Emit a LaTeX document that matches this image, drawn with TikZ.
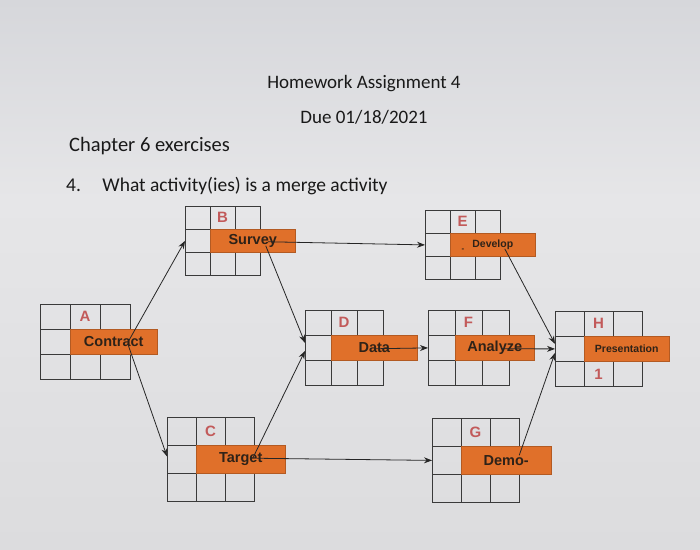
\documentclass[tikz,border=0pt]{standalone}
\usepackage{fontspec}
\setmainfont{Carlito}
\newfontfamily\arialfont{Liberation Sans}
\usetikzlibrary{arrows.meta,calc}
\definecolor{papertop}{HTML}{D6D7DB}
\definecolor{papermid}{HTML}{E6E6E8}
\definecolor{paperbot}{HTML}{DCDCDE}
\definecolor{actorange}{HTML}{E0702A}
\definecolor{actred}{HTML}{C25A5A}
\definecolor{gridgray}{HTML}{3A3A3A}
\definecolor{inktext}{HTML}{2E2218}
\tikzset{
  hdr/.style={inner sep=0pt, text=black!90},
  gridbox/.style={draw=gridgray, line width=0.8pt, inner sep=0pt},
  gridline/.style={draw=gridgray, line width=0.8pt},
  actlabel/.style={fill=actorange, draw=actorange!80!black, line width=0.5pt, inner sep=0pt,
    text=inktext, font=\arialfont\bfseries\fontsize{14.5}{16}\selectfont},
  actletter/.style={inner sep=0pt, text=actred, font=\arialfont\bfseries\fontsize{15}{17}\selectfont},
  conn/.style={draw=black!85, line width=0.8pt, -{Stealth[length=8pt,width=6pt]}},
}
% #1 name, #2 x, #3 y, #4 cell w, #5 cell h, #6 label width, #7 letter, #8 label
\newcommand\activitybox[8]{%
  \node[gridbox, minimum width=3*#4pt, minimum height=3*#5pt, anchor=north west] (#1g) at (#2,#3) {};
  \draw[gridline] (#2+#4,#3) -- (#2+#4,#3+3*#5);
  \draw[gridline] (#2+2*#4,#3) -- (#2+2*#4,#3+3*#5);
  \draw[gridline] (#2,#3+#5) -- (#2+3*#4,#3+#5);
  \draw[gridline] (#2,#3+2*#5) -- (#2+3*#4,#3+2*#5);
  \node[actlabel, minimum width=#6pt, minimum height=#5pt, anchor=north west] (#1) at (#2+#4,#3+#5) {#8};
  \node[actletter] (#1l) at (#2+1.5*#4,#3+0.5*#5) {#7};
}
\begin{document}
\begin{tikzpicture}[x=1pt,y=-1pt]
\shade[top color=papertop, bottom color=papermid] (0,0) rectangle (700,200);
\shade[top color=papermid, bottom color=paperbot] (0,200) rectangle (700,549);
\useasboundingbox (0,0) rectangle (700,549);

\node[hdr, anchor=base, font=\fontsize{19}{22}\selectfont] (t1) at (364,88) {Homework Assignment 4};
\node[hdr, anchor=base, font=\fontsize{19}{22}\selectfont] (t2) at (364,123) {Due 01/18/2021};
\node[hdr, anchor=base west, font=\fontsize{20.5}{24}\selectfont] (t3) at (69,151) {Chapter 6 exercises};
\node[hdr, anchor=base west, font=\fontsize{19.5}{23}\selectfont] (t4) at (66,191) {4.\hspace{1.1em}What activity(ies) is a merge activity};

\activitybox{A}{40}{304}{30}{25}{87}{A}{Contract}
\activitybox{B}{185}{206}{25}{23}{85}{B}{Survey}
\activitybox{E}{425}{210}{25}{23}{85}{E}{\fontsize{10.5}{12}\selectfont Develop}
\activitybox{D}{305}{310}{26}{25}{86}{D}{Data}
\activitybox{F}{428}{310}{27}{25}{79}{F}{Analyze}
\activitybox{H}{555}{311}{29}{25}{85}{H}{\fontsize{10.5}{12}\selectfont Presentation}
\activitybox{C}{167}{417}{29}{28}{89}{C}{Target}
\activitybox{G}{432}{418}{29}{28}{90}{G}{Demo-}
\node[actletter] (H1) at (598.5,374) {1};
\node[inner sep=0pt, text=inktext, font=\arialfont\bfseries\fontsize{8}{9}\selectfont] (Edash) at (463,250) {-};

\draw[conn] ([xshift=15pt,yshift=1pt]A.center) -- (Bg.west);
\draw[conn] ([xshift=14pt,yshift=-2pt]A.center) -- ([yshift=3pt]Cg.west);
\draw[conn] ([xshift=15pt,yshift=-1pt]B.center) -- (Eg.west);
\draw[conn] ([xshift=13pt,yshift=-5pt]B.center) -- ([yshift=5pt]Dg.west);
\draw[conn] ([xshift=12pt,yshift=1pt]C.center) -- ([yshift=-3pt]Dg.west);
\draw[conn] ([xshift=16pt,yshift=1pt]C.center) -- (Gg.west);
\draw[conn] ([xshift=0pt,yshift=-1pt]D.center) -- (Fg.west);
\draw[conn] ([xshift=12pt,yshift=-4pt]E.center) -- ([yshift=5pt]Hg.west);
\draw[conn] ([xshift=7pt,yshift=-1pt]F.center) -- (Hg.west);
\draw[conn] ([xshift=13pt,yshift=5pt]G.center) -- ([yshift=-4pt]Hg.west);
\end{tikzpicture}
\end{document}
